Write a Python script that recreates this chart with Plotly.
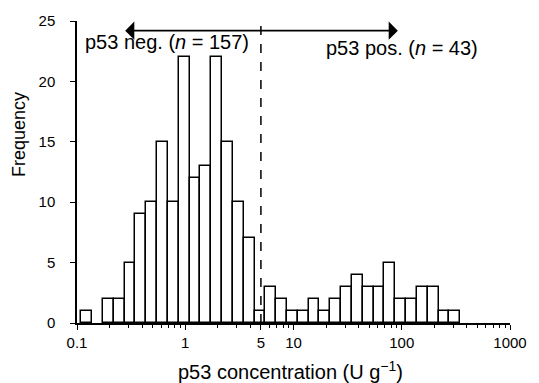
import numpy as np
import plotly.graph_objects as go

# ---- data ----
# histogram bins: equal width on a log10 scale
first_bin_lower_log10 = -0.96
bin_width_log10 = 0.1
counts = [1, 0, 2, 2, 5, 9, 10, 15, 10, 22, 12, 13, 22, 15, 10, 7,
          1, 3, 2, 1, 1, 2, 1, 2, 3, 4, 3, 3, 5, 2, 2, 3, 3, 1, 1]
cutoff = 5  # U/g threshold (dashed line)
neg_label = "p53 neg. (<i>n</i> = 157)"
pos_label = "p53 pos. (<i>n</i> = 43)"
arrow_left_end = 0.27   # U/g
arrow_right_end = 92    # U/g
x_tick_values = [0.1, 1, 5, 10, 100, 1000]
x_tick_labels = ["0.1", "1", "5", "10", "100", "1000"]
y_ticks = [0, 5, 10, 15, 20, 25]

# ---- derived ----
centers = [first_bin_lower_log10 + bin_width_log10 * (i + 0.5) for i in range(len(counts))]
bx = [c for c, n in zip(centers, counts) if n > 0]
by = [n for n in counts if n > 0]
minor_vals = [np.log10(k * 10.0 ** d) for d in range(-1, 3) for k in range(2, 10)]

FONT = "Liberation Sans, Arial, Helvetica, sans-serif"
W, H = 539, 383
L, R, T, B = 77, 21, 17, 60

fig = go.Figure()
fig.add_trace(go.Bar(
    x=bx, y=by, width=bin_width_log10,
    marker=dict(color="white", line=dict(color="black", width=1.5)),
    showlegend=False, hoverinfo="skip",
))

fig.add_shape(type="line", xref="x", yref="y",
              x0=np.log10(cutoff), x1=np.log10(cutoff), y0=0, y1=25,
              line=dict(color="black", width=1.5, dash="dash"))

# double-headed arrow
fig.add_annotation(x=np.log10(arrow_right_end), y=24.2, ax=np.log10(arrow_left_end), ay=24.2,
                   xref="x", yref="y", axref="x", ayref="y", text="",
                   showarrow=True, arrowhead=1, arrowside="end+start",
                   arrowsize=1.9, arrowwidth=1.6, arrowcolor="black")

fig.add_annotation(x=-0.17, y=23.25, xref="x", yref="y", text=neg_label, showarrow=False,
                   xanchor="center", yanchor="middle", font=dict(family=FONT, size=20, color="black"))
fig.add_annotation(x=1.28, y=22.8, xref="x", yref="y", text=pos_label, showarrow=False,
                   xanchor="left", yanchor="middle", font=dict(family=FONT, size=20, color="black"))

# axis titles (positioned by pixel)
fig.add_annotation(x=(18 - L) / (W - L - R), y=0.623, xref="paper", yref="paper", text="Frequency",
                   textangle=-90, showarrow=False, xanchor="center", yanchor="middle",
                   font=dict(family=FONT, size=18, color="black"))
fig.add_annotation(x=(294 - L) / (W - L - R), y=(H - B - 371) / (H - T - B), xref="paper", yref="paper",
                   text="p53 concentration (U g<sup>\u22121</sup>)", showarrow=False,
                   xanchor="center", yanchor="middle",
                   font=dict(family=FONT, size=20, color="black"))

fig.update_layout(
    width=W, height=H,
    margin=dict(l=L, r=R, t=T, b=B),
    paper_bgcolor="white", plot_bgcolor="white",
    font=dict(family=FONT, size=15, color="black"),
    bargap=0,
    xaxis=dict(range=[-1, 3], tickmode="array",
               tickvals=[np.log10(v) for v in x_tick_values], ticktext=x_tick_labels,
               ticks="outside", ticklen=5, tickwidth=1.4, tickcolor="black",
               showline=True, linecolor="black", linewidth=1.5,
               showgrid=False, zeroline=False, ticklabelstandoff=0,
               minor=dict(tickmode="array", tickvals=minor_vals, ticks="outside",
                          ticklen=3, tickwidth=1.2, tickcolor="black", showgrid=False)),
    yaxis=dict(range=[0, 25], tickmode="array", tickvals=y_ticks,
               ticks="outside", ticklen=5, tickwidth=1.4, tickcolor="black",
               showline=True, linecolor="black", linewidth=1.5,
               showgrid=False, zeroline=False, ticklabelstandoff=12),
)

fig.write_html("out.html", config={"displayModeBar": False},
               post_script="document.body.style.margin='0';document.body.style.padding='0';")
